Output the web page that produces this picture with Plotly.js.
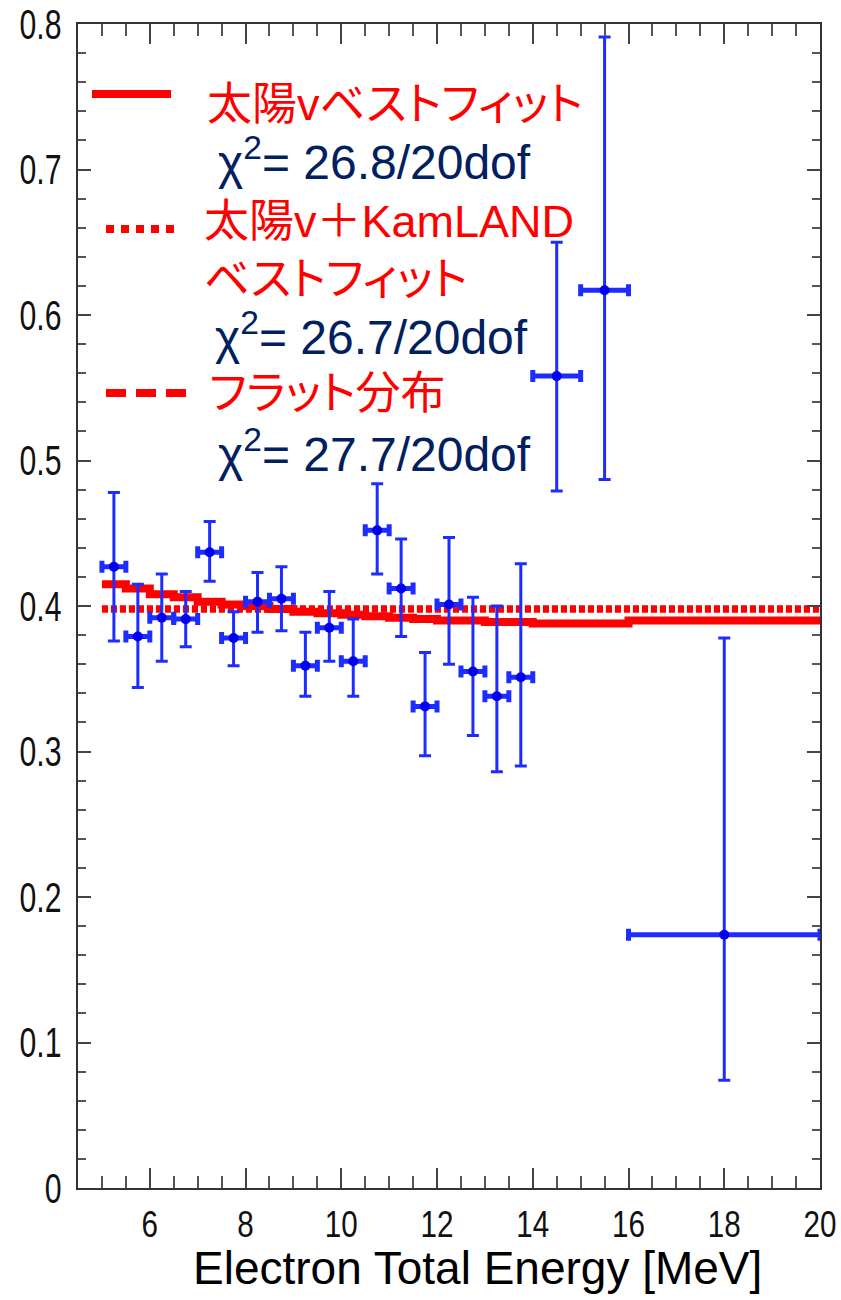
<!DOCTYPE html>
<html>
<head>
<meta charset="utf-8">
<script src="https://cdn.plot.ly/plotly-3.0.1.min.js"></script>
<style>
  html, body { margin: 0; padding: 0; background: #fff; }
  #chart { width: 841px; height: 1300px; }
  .annotation-text { font-feature-settings: "palt" 1; }
</style>
</head>
<body>
<div id="chart"></div>
<script>
// ---- Data ----
const energyCenters = [5.25, 5.75, 6.25, 6.75, 7.25, 7.75, 8.25, 8.75, 9.25, 9.75,
                       10.25, 10.75, 11.25, 11.75, 12.25, 12.75, 13.25, 13.75, 14.5, 15.5, 18];
const energyHalfWidth = [0.25, 0.25, 0.25, 0.25, 0.25, 0.25, 0.25, 0.25, 0.25, 0.25,
                         0.25, 0.25, 0.25, 0.25, 0.25, 0.25, 0.25, 0.25, 0.5, 0.5, 2];
const ratioValues = [0.427, 0.379, 0.392, 0.391, 0.437, 0.378, 0.403, 0.405, 0.359, 0.385,
                     0.362, 0.452, 0.412, 0.331, 0.401, 0.355, 0.338, 0.351, 0.558, 0.617, 0.174];
const errPlus  = [0.051, 0.036, 0.030, 0.019, 0.021, 0.018, 0.020, 0.022, 0.023, 0.025,
                  0.029, 0.032, 0.034, 0.037, 0.046, 0.051, 0.062, 0.078, 0.092, 0.174, 0.204];
const errMinus = [0.051, 0.035, 0.030, 0.019, 0.020, 0.019, 0.021, 0.022, 0.021, 0.023,
                  0.024, 0.030, 0.033, 0.034, 0.041, 0.044, 0.052, 0.061, 0.079, 0.130, 0.100];

// Solar best-fit (step histogram): bin edges and bin values
const solarFitEdges  = [5, 5.5, 6, 6.5, 7, 7.5, 8, 8.5, 9, 9.5, 10, 10.5, 11, 11.5, 12, 12.5, 13, 13.5, 14, 15, 16, 20];
const solarFitValues = [0.415, 0.412, 0.408, 0.406, 0.403, 0.401, 0.400, 0.398, 0.396, 0.395,
                        0.394, 0.393, 0.392, 0.391, 0.390, 0.390, 0.389, 0.389, 0.388, 0.388, 0.390];

// Solar + KamLAND best fit and flat distribution
const kamlandFitX = [5, 20];
const kamlandFitY = [0.398, 0.398];
const flatX = [5, 20];
const flatY = [0.398, 0.398];

// Legend texts
const legendLabels = ["太陽vベストフィット", "太陽v＋KamLAND", "ベストフィット", "フラット分布"];
const chi2Labels = ["χ<sup>2</sup>= 26.8/20dof", "χ<sup>2</sup>= 26.7/20dof", "χ<sup>2</sup>= 27.7/20dof"];
const xTitle = "Electron Total Energy [MeV]";

// ---- Build traces ----
const RED = "#ff0000";
const NAVY = "#002060";
const BLUE = "rgb(30,45,255)";

const solarY = solarFitValues.concat([solarFitValues[solarFitValues.length - 1]]);

const traces = [
  {
    x: flatX, y: flatY, type: "scatter", mode: "lines",
    line: { color: RED, width: 7, dash: "6px,3px" }, hoverinfo: "skip"
  },
  {
    x: kamlandFitX, y: kamlandFitY, type: "scatter", mode: "lines",
    line: { color: RED, width: 7, dash: "6px,3px" }, hoverinfo: "skip"
  },
  {
    x: solarFitEdges, y: solarY, type: "scatter", mode: "lines",
    line: { color: RED, width: 8, shape: "hv" }, hoverinfo: "skip"
  },
  {
    x: energyCenters, y: ratioValues, type: "scatter", mode: "markers",
    marker: { color: "#0000ee", size: 10, symbol: "circle" },
    error_x: { type: "data", array: energyHalfWidth, color: BLUE, thickness: 5, width: 6 },
    error_y: { type: "data", symmetric: false, array: errPlus, arrayminus: errMinus,
               color: BLUE, thickness: 3, width: 6 }
  }
];

// ---- Layout ----
const L = 78, R = 820, T = 24, B = 1188;
const W = R - L, H = B - T;
const px = v => (v - L) / W;
const py = v => (B - v) / H;

const cjkFont = { family: "Liberation Sans, Noto Sans CJK JP, sans-serif", size: 45, color: RED };
const chiFont = { family: "Liberation Sans, Arial, sans-serif", size: 48, color: NAVY };

const annotations = [
  { text: legendLabels[0], x: px(205), y: py(105), font: cjkFont },
  { text: chi2Labels[0],   x: px(216), y: py(159), font: chiFont },
  { text: legendLabels[1], x: px(202), y: py(222), font: cjkFont },
  { text: legendLabels[2], x: px(202), y: py(279), font: cjkFont },
  { text: chi2Labels[1],   x: px(213), y: py(334), font: chiFont },
  { text: legendLabels[3], x: px(207), y: py(393), font: cjkFont },
  { text: chi2Labels[2],   x: px(216), y: py(451), font: chiFont },
  { text: xTitle, x: px(477), y: py(1268), yanchor: "middle", xanchor: "center",
    font: { family: "Liberation Sans, Arial, sans-serif", size: 46, color: "#000" } }
].map(a => Object.assign({ xref: "paper", yref: "paper", showarrow: false,
                           xanchor: "left", yanchor: "middle" }, a));

const shapes = [
  { type: "line", xref: "paper", yref: "paper", x0: px(92), x1: px(171), y0: py(94), y1: py(94),
    line: { color: RED, width: 8 } },
  { type: "line", xref: "paper", yref: "paper", x0: px(106), x1: px(175), y0: py(229), y1: py(229),
    line: { color: RED, width: 8, dash: "8px,7px" } },
  { type: "line", xref: "paper", yref: "paper", x0: px(106), x1: px(186), y0: py(393), y1: py(393),
    line: { color: RED, width: 8, dash: "20px,10px" } }
];

const tickFontFamily = "Liberation Sans, Arial, sans-serif";

const layout = {
  width: 841, height: 1300,
  margin: { l: L, r: 841 - R, t: T, b: 1300 - B, pad: 0 },
  paper_bgcolor: "#fff", plot_bgcolor: "#fff",
  showlegend: false,
  xaxis: {
    range: [4.5, 20], tick0: 0, dtick: 2,
    ticks: "inside", ticklen: 20, tickwidth: 2, tickcolor: "#444",
    minor: { dtick: 0.5, ticks: "inside", ticklen: 12, tickwidth: 2, tickcolor: "#555" },
    showline: true, linecolor: "#333", linewidth: 2, mirror: "ticks",
    showgrid: false, zeroline: false,
    tickfont: { family: tickFontFamily, size: 37, color: "#111" },
    ticklabelstandoff: 3, ticklabeloverflow: "allow"
  },
  yaxis: {
    range: [0, 0.8], tick0: 0, dtick: 0.1,
    ticks: "inside", ticklen: 13, tickwidth: 2, tickcolor: "#444",
    minor: { dtick: 0.02, ticks: "inside", ticklen: 8, tickwidth: 2, tickcolor: "#555" },
    showline: true, linecolor: "#333", linewidth: 2, mirror: "ticks",
    showgrid: false, zeroline: false,
    tickfont: { family: tickFontFamily, size: 42, color: "#111" },
    ticklabelstandoff: 6, ticklabeloverflow: "allow"
  },
  annotations: annotations,
  shapes: shapes
};

// Narrow the tick labels horizontally around their anchor point (condensed look).
function condenseTicks(gd) {
  const cfg = [[".ytick text", 0.72], [".xtick text", 0.8]];
  cfg.forEach(([sel, s]) => {
    gd.querySelectorAll(sel).forEach(t => {
      if (t.dataset.condensed) return;
      const x = parseFloat(t.getAttribute("x")) || 0;
      const tr = t.getAttribute("transform") || "";
      t.setAttribute("transform", tr + " translate(" + x + ",0) scale(" + s + ",1) translate(" + (-x) + ",0)");
      t.dataset.condensed = "1";
    });
  });
}

Plotly.newPlot("chart", traces, layout, { staticPlot: true }).then(gd => condenseTicks(gd));
</script>
</body>
</html>
